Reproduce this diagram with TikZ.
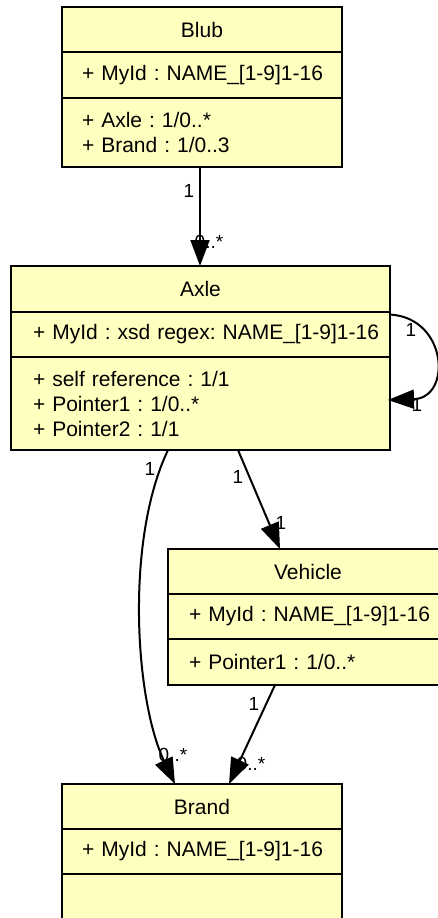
\documentclass[tikz,border=0pt]{standalone}
\usepackage{fontspec}
\setmainfont{Liberation Sans}
\frenchspacing
\setlength{\parindent}{0pt}
\usetikzlibrary{positioning,arrows.meta,calc}
\definecolor{uml}{HTML}{FFFFC0}

\tikzset{
  part/.style={draw=black, fill=uml, line width=2pt, outer sep=0pt, inner xsep=15pt, inner ysep=0pt,
    font=\fontsize{21}{25}\selectfont},
  title/.style={part, align=center},
  attr/.style={part, align=left},
  assoc/.style={line width=2pt, -{Triangle[length=26pt,width=19pt]}},
  mult/.style={font=\fontsize{19}{22}\selectfont, inner sep=0pt},
}

\begin{document}
\begin{tikzpicture}[x=1pt, y=-1pt]
  \useasboundingbox (0,0) rectangle (438,918);
  \clip (0,0) rectangle (438,918);
  % Blub
  \node[title, minimum width=280pt, minimum height=45pt] (blubtitle) at (202,29.5) {Blub};
  \node[attr, text width=250pt, minimum height=46pt, below=0pt of blubtitle] (blubattr) {\hspace*{5pt}+ MyId : NAME\_[1-9]1-16};
  \node[attr, text width=250pt, minimum height=69pt, below=0pt of blubattr] (blubops) {\hspace*{5pt}+ Axle : 1/0..*\\\hspace*{5pt}+ Brand : 1/0..3};
  % Axle
  \node[title, minimum width=379pt, minimum height=46pt] (axletitle) at (200.5,289) {Axle};
  \node[attr, inner xsep=8pt, text width=363pt, minimum height=45pt, below=0pt of axletitle] (axleattr) {\hspace*{14pt}+ MyId : xsd regex: NAME\_[1-9]1-16};
  \node[attr, inner xsep=8pt, text width=363pt, minimum height=93pt, below=0pt of axleattr] (axleops) {\hspace*{14pt}+ self reference : 1/1\\\hspace*{14pt}+ Pointer1 : 1/0..*\\\hspace*{14pt}+ Pointer2 : 1/1};
  % Vehicle
  \node[title, minimum width=280pt, minimum height=45pt] (vehtitle) at (308,571.5) {Vehicle};
  \node[attr, text width=250pt, minimum height=45pt, below=0pt of vehtitle] (vehattr) {\hspace*{6pt}+ MyId : NAME\_[1-9]1-16};
  \node[attr, text width=250pt, minimum height=46pt, below=0pt of vehattr] (vehops) {\hspace*{6pt}+ Pointer1 : 1/0..*};
  % Brand
  \node[title, minimum width=280pt, minimum height=45pt] (brandtitle) at (202,806.5) {Brand};
  \node[attr, text width=250pt, minimum height=45pt, below=0pt of brandtitle] (brandattr) {\hspace*{5pt}+ MyId : NAME\_[1-9]1-16};
  \node[attr, text width=250pt, minimum height=60pt, below=0pt of brandattr] (brandops) {};

  % multiplicities
  \node[mult] (m1) at (189,191) {1};
  \node[mult] (m2) at (209,242) {0..*};
  \node[mult] (m3) at (411,330) {1};
  \node[mult] (m4) at (417,405) {1};
  \node[mult] (m5) at (238,477) {1};
  \node[mult] (m6) at (281,523) {1};
  \node[mult] (m7) at (150,469) {1};
  \node[mult] (m8) at (173,755) {0..*};
  \node[mult] (m9) at (254,704) {1};
  \node[mult] (m10) at (251,764) {0..*};

  % associations
  \draw[assoc] ([xshift=-2pt]blubops.south) -- ([xshift=-0.5pt]axletitle.north);
  \draw[assoc] ([yshift=20pt]axleattr.east) .. controls (448,318) and (452,398) .. ([yshift=3.5pt,xshift=-2pt]axleops.east);
  \draw[assoc] ([xshift=37.5pt]axleops.south) -- ([xshift=-28pt]vehtitle.north);
  \draw[assoc] ([xshift=-32.5pt]axleops.south) .. controls (125,540) and (135,700) .. ([xshift=-27pt]brandtitle.north);
  \draw[assoc] ([xshift=-33pt]vehops.south) -- ([xshift=27pt]brandtitle.north);
\end{tikzpicture}
\end{document}
